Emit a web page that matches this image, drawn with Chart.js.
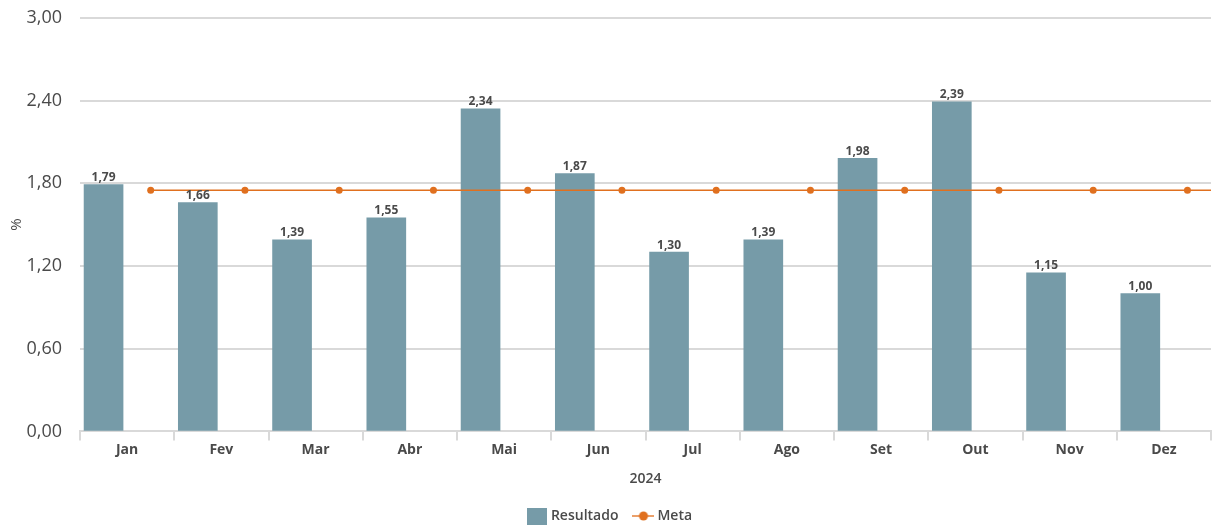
<!DOCTYPE html>
<html lang="pt">
<head>
<meta charset="UTF-8">
<title>Resultado x Meta 2024</title>
<script src="https://cdn.jsdelivr.net/npm/chart.js"></script>
<style>
    html, body { margin: 0; padding: 0; background: #fff; }
    #wrap { width: 1215px; height: 528px; overflow: hidden; }
    #chart { display: block; margin-top: -11px; }
</style>
</head>
<body>
<div id="wrap"><canvas id="chart" width="1215" height="544"></canvas></div>
<script>
// dados
const meses = ['Jan', 'Fev', 'Mar', 'Abr', 'Mai', 'Jun', 'Jul', 'Ago', 'Set', 'Out', 'Nov', 'Dez'];
const resultado = [1.79, 1.66, 1.39, 1.55, 2.34, 1.87, 1.30, 1.39, 1.98, 2.39, 1.15, 1.00];
const meta = [1.75, 1.75, 1.75, 1.75, 1.75, 1.75, 1.75, 1.75, 1.75, 1.75, 1.75, 1.75];
const yTicks = [0, 0.6, 1.2, 1.8, 2.4, 3.0];

const corBarra = '#769ba8';
const corMeta = '#e0701f';
const corTexto = '#4a4a4a';
const fonte = "'Open Sans', 'Noto Sans', sans-serif";

const fmt = v => v.toFixed(2).replace('.', ',');

// como no Excel: barra na 1a metade do mês, meta na 2a metade
const barPontos = resultado.map((v, i) => ({ x: i - 0.25, y: v }));
const metaPontos = meta.map((v, i) => ({ x: i + 0.25, y: v }));
// repete a meta fora da área para a linha chegar à borda direita
metaPontos.push({ x: meta.length + 0.25, y: meta[meta.length - 1] });

// ícones da legenda
const iconeMeta = document.createElement('canvas');
iconeMeta.width = 22; iconeMeta.height = 12;
(function () {
    const c = iconeMeta.getContext('2d');
    c.strokeStyle = '#eba06a'; c.lineWidth = 2;
    c.beginPath(); c.moveTo(0, 6); c.lineTo(22, 6); c.stroke();
    c.fillStyle = corMeta;
    c.beginPath(); c.arc(11, 6, 4.5, 0, Math.PI * 2); c.fill();
})();
const iconeBarra = document.createElement('canvas');
iconeBarra.width = 20; iconeBarra.height = 17;
(function () {
    const c = iconeBarra.getContext('2d');
    c.fillStyle = corBarra; c.fillRect(0, 0, 20, 17);
})();

const rotulos = {
    id: 'rotulos',
    afterDatasetsDraw(chart) {
        const ctx = chart.ctx;
        const m = chart.getDatasetMeta(0);
        ctx.save();
        ctx.font = 'bold 12px ' + fonte;
        ctx.fillStyle = corTexto;
        ctx.textAlign = 'center';
        ctx.textBaseline = 'bottom';
        m.data.forEach((bar, i) => {
            ctx.fillText(fmt(resultado[i]), bar.x, bar.y - 1);
        });
        ctx.restore();
    }
};

const ctx = document.getElementById('chart').getContext('2d');
const chart = new Chart(ctx, {
    type: 'bar',
    data: {
        labels: meses,
        datasets: [
            {
                label: 'Resultado',
                data: barPontos,
                xAxisID: 'x2',
                backgroundColor: corBarra,
                barThickness: 39,
                order: 2
            },
            {
                type: 'line',
                label: 'Meta',
                data: metaPontos,
                xAxisID: 'x2',
                borderColor: corMeta,
                backgroundColor: corMeta,
                borderWidth: 1.5,
                pointRadius: 3.5,
                pointBorderWidth: 0,
                order: 1
            }
        ]
    },
    options: {
        responsive: false,
        animation: false,
        layout: { padding: { top: 0, right: 1, left: 8, bottom: 0 } },
        plugins: {
            tooltip: { enabled: false },
            legend: {
                position: 'bottom',
                labels: {
                    usePointStyle: true,
                    padding: 18,
                    color: corTexto,
                    font: { family: fonte, size: 14, weight: '600' },
                    generateLabels(chart) {
                        return chart.data.datasets.map((ds, i) => ({
                            text: ds.label,
                            datasetIndex: i,
                            pointStyle: i === 0 ? iconeBarra : iconeMeta,
                            fontColor: corTexto,
                            hidden: false,
                            lineWidth: 0
                        }));
                    }
                }
            }
        },
        scales: {
            x: {
                type: 'category',
                offset: true,
                grid: {
                    offset: true,
                    drawOnChartArea: false,
                    tickLength: 9,
                    color: '#d9d9d9',
                    lineWidth: 2
                },
                border: { color: '#d9d9d9', width: 2 },
                ticks: {
                    color: corTexto,
                    padding: 1,
                    font: { family: fonte, size: 14, weight: 'bold' }
                },
                title: {
                    display: true,
                    text: '2024',
                    color: corTexto,
                    padding: { top: 11, bottom: 4 },
                    font: { family: fonte, size: 14, weight: '600' }
                }
            },
            x2: {
                type: 'linear',
                display: false,
                offset: false,
                min: -0.5,
                max: meses.length - 0.5,
                grid: { offset: false }
            },
            y: {
                min: yTicks[0],
                max: yTicks[yTicks.length - 1],
                afterBuildTicks(axis) {
                    axis.ticks = yTicks.map(v => ({ value: v }));
                },
                afterFit(axis) {
                    axis.width = 72;
                },
                grid: { color: '#d9d9d9', lineWidth: 2, drawTicks: false },
                border: { display: false },
                ticks: {
                    color: corTexto,
                    padding: 18,
                    font: { family: fonte, size: 18 },
                    callback: v => fmt(v)
                },
                title: {
                    display: true,
                    text: '%',
                    color: corTexto,
                    padding: { top: 0, bottom: 2 },
                    font: { family: fonte, size: 15 }
                }
            }
        }
    },
    plugins: [rotulos]
});
</script>
</body>
</html>
